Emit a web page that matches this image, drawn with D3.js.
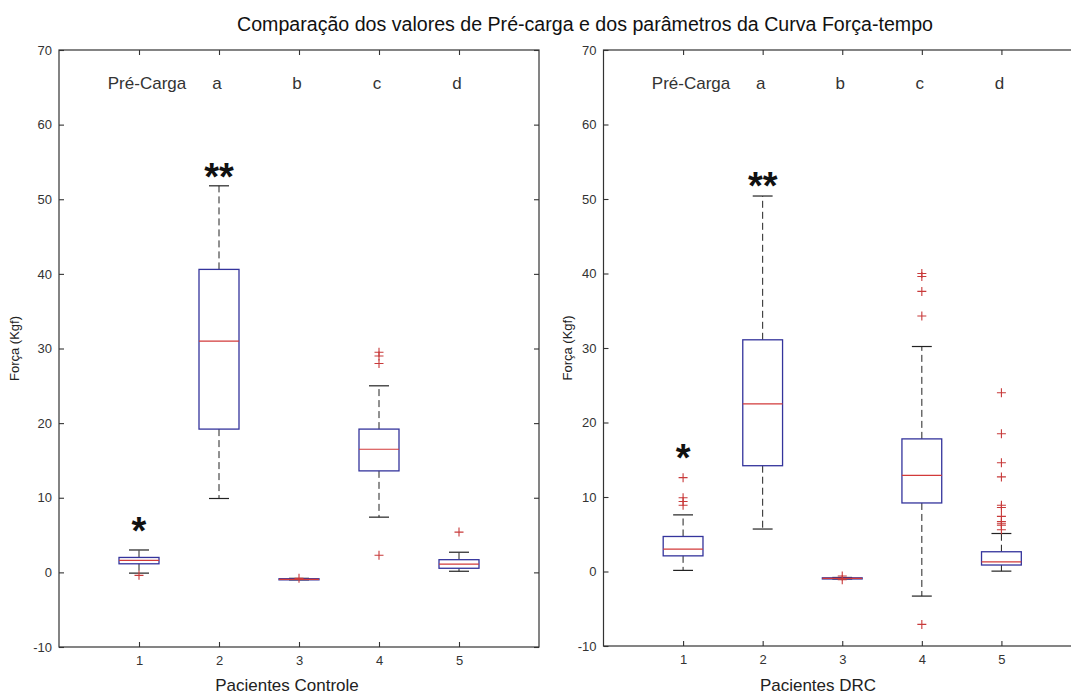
<!DOCTYPE html>
<html>
<head>
<meta charset="utf-8">
<script src="https://cdn.jsdelivr.net/npm/d3@7"></script>
<style>
  body { margin: 0; background: #fff; }
  text { font-family: "Liberation Sans", Arial, sans-serif; }
</style>
</head>
<body>
<svg id="chart" width="1071" height="696"></svg>
<script>
// ---- data -------------------------------------------------------------
const groups = [1, 2, 3, 4, 5];
const topLabels = ["Pré-Carga", "a", "b", "c", "d"];
const yTicks = [-10, 0, 10, 20, 30, 40, 50, 60, 70];

// Pacientes Controle
const controleLow      = [-0.1, 9.9, -1.0, 7.4, 0.15];
const controleQ1       = [1.15, 19.2, -1.0, 13.6, 0.55];
const controleMedian   = [1.6, 31.0, -0.93, 16.5, 1.1];
const controleQ3       = [2.0, 40.6, -0.85, 19.2, 1.7];
const controleHigh     = [3.0, 51.8, -0.8, 25.0, 2.7];
const controleOutliers = [[-0.4], [], [-0.8], [29.5, 29.0, 28.0, 2.3], [5.4]];
const controleStarGroups = [1, 2];
const controleStarText   = ["*", "**"];
const controleStarY      = [6.8, 54.3];

// Pacientes DRC
const drcLow      = [0.15, 5.7, -1.0, -3.3, 0.05];
const drcQ1       = [2.1, 14.2, -1.0, 9.2, 0.87];
const drcMedian   = [3.0, 22.5, -0.92, 12.9, 1.3];
const drcQ3       = [4.7, 31.1, -0.85, 17.8, 2.65];
const drcHigh     = [7.6, 50.4, -0.8, 30.2, 5.1];
const drcOutliers = [[12.6, 9.9, 9.4, 8.9], [], [-0.6, -1.1],
                     [40.0, 39.6, 37.6, 34.3, -7.1],
                     [24.0, 18.5, 14.6, 12.7, 8.9, 8.6, 7.4, 6.7, 6.4, 6.2, 5.6]];
const drcStarGroups = [1, 2];
const drcStarText   = ["*", "**"];
const drcStarY      = [16.6, 53.1];

// ---- drawing ------------------------------------------------------------
const svg = d3.select("#chart");
svg.append("rect").attr("width", 1071).attr("height", 696).attr("fill", "#fff");

const BOX = "#34349c", MED = "#d23a3a", OUT = "#c83a3a", AXIS = "#333";

svg.append("text")
  .attr("x", 585).attr("y", 31)
  .attr("text-anchor", "middle")
  .attr("font-size", 19.6)
  .attr("fill", "#111")
  .text("Comparação dos valores de Pré-carga e dos parâmetros da Curva Força-tempo");

function drawPanel(cfg) {
  const x = d3.scaleLinear().domain([0, 6]).range([cfg.left, cfg.right]);
  const y = d3.scaleLinear().domain([-10, 70]).range([cfg.bottom, cfg.top]);

  const clipId = "clip" + cfg.id;
  svg.append("clipPath").attr("id", clipId)
    .append("rect").attr("x", 0).attr("y", 0).attr("width", 1071).attr("height", 696);

  const g = svg.append("g").attr("clip-path", `url(#${clipId})`);

  // frame
  g.append("rect")
    .attr("x", x(0)).attr("y", y(70))
    .attr("width", x(6) - x(0)).attr("height", y(-10) - y(70))
    .attr("fill", "none").attr("stroke", AXIS).attr("stroke-width", 1.2);

  // axes with inward ticks
  const tickStyle = sel => {
    sel.select(".domain").remove();
    sel.selectAll(".tick line").attr("stroke", AXIS).attr("stroke-width", 1.1);
    sel.selectAll(".tick text").attr("fill", "#333").attr("font-size", 13)
      .attr("font-family", "'Liberation Sans', Arial, sans-serif");
  };
  const plain = d => String(d);   // ASCII hyphen for negatives
  g.append("g").attr("transform", `translate(${x(0)},0)`)
    .call(d3.axisLeft(y).tickValues(yTicks).tickSize(-5).tickPadding(7).tickFormat(plain))
    .call(tickStyle);
  g.append("g").attr("transform", `translate(${x(6)},0)`)
    .call(d3.axisRight(y).tickValues(yTicks).tickSize(-5).tickFormat(""))
    .call(tickStyle);
  g.append("g").attr("transform", `translate(0,${y(-10)})`)
    .call(d3.axisBottom(x).tickValues(groups).tickSize(-5).tickPadding(9).tickFormat(plain))
    .call(tickStyle);
  g.append("g").attr("transform", `translate(0,${y(70)})`)
    .call(d3.axisTop(x).tickValues(groups).tickSize(-5).tickFormat(""))
    .call(tickStyle);

  // labels across the top
  g.selectAll(".toplab").data(topLabels).enter().append("text")
    .attr("x", (d, i) => x(groups[i]) + (i === 0 ? 8 : -2))
    .attr("y", y(64.8))
    .attr("text-anchor", "middle")
    .attr("font-size", 17)
    .attr("fill", "#333")
    .text(d => d);

  const bw = 0.25, cw = 0.125;
  groups.forEach((grp, i) => {
    const cx = x(grp);
    // whiskers
    [[cfg.q3[i], cfg.high[i]], [cfg.q1[i], cfg.low[i]]].forEach(([a, b]) => {
      g.append("line").attr("x1", cx).attr("x2", cx).attr("y1", y(a)).attr("y2", y(b))
        .attr("stroke", "#222").attr("stroke-width", 1).attr("stroke-dasharray", "7,4");
      g.append("line").attr("x1", x(grp - cw)).attr("x2", x(grp + cw))
        .attr("y1", y(b)).attr("y2", y(b))
        .attr("stroke", "#222").attr("stroke-width", 1.2);
    });
    // box
    g.append("rect")
      .attr("x", x(grp - bw)).attr("width", x(grp + bw) - x(grp - bw))
      .attr("y", y(cfg.q3[i])).attr("height", Math.max(0.5, y(cfg.q1[i]) - y(cfg.q3[i])))
      .attr("fill", "none").attr("stroke", BOX).attr("stroke-width", 1.3);
    // median
    g.append("line").attr("x1", x(grp - bw)).attr("x2", x(grp + bw))
      .attr("y1", y(cfg.median[i])).attr("y2", y(cfg.median[i]))
      .attr("stroke", MED).attr("stroke-width", 1.2);
    // outliers
    cfg.outliers[i].forEach(v => {
      const py = y(v), s = 4.5;
      g.append("path")
        .attr("d", `M${cx - s},${py}H${cx + s}M${cx},${py - s}V${py + s}`)
        .attr("stroke", OUT).attr("stroke-width", 1.1).attr("fill", "none");
    });
  });

  // significance marks
  cfg.starGroups.forEach((grp, i) => {
    g.append("text")
      .attr("x", x(grp)).attr("y", y(cfg.starY[i]))
      .attr("dy", "0.6em")
      .attr("text-anchor", "middle")
      .attr("font-family", "'DejaVu Sans', sans-serif")
      .attr("font-weight", "bold")
      .attr("font-size", 38)
      .attr("fill", "#111")
      .text(cfg.starText[i]);
  });

  // axis titles
  svg.append("text")
    .attr("transform", `translate(${cfg.yLabelX},${(cfg.top + cfg.bottom) / 2}) rotate(-90)`)
    .attr("text-anchor", "middle").attr("font-size", 13).attr("fill", "#222")
    .text("Força (Kgf)");
  svg.append("text")
    .attr("x", cfg.xLabelX).attr("y", 691)
    .attr("text-anchor", "middle").attr("font-size", 17).attr("fill", "#222")
    .text(cfg.xLabel);
}

drawPanel({
  id: 1, left: 59, right: 539, top: 50, bottom: 647,
  low: controleLow, q1: controleQ1, median: controleMedian, q3: controleQ3, high: controleHigh,
  outliers: controleOutliers, starGroups: controleStarGroups, starText: controleStarText, starY: controleStarY,
  xLabel: "Pacientes Controle", xLabelX: 287, yLabelX: 19
});
drawPanel({
  id: 2, left: 603.5, right: 1081, top: 50, bottom: 646,
  low: drcLow, q1: drcQ1, median: drcMedian, q3: drcQ3, high: drcHigh,
  outliers: drcOutliers, starGroups: drcStarGroups, starText: drcStarText, starY: drcStarY,
  xLabel: "Pacientes DRC", xLabelX: 818, yLabelX: 572
});
</script>
</body>
</html>
